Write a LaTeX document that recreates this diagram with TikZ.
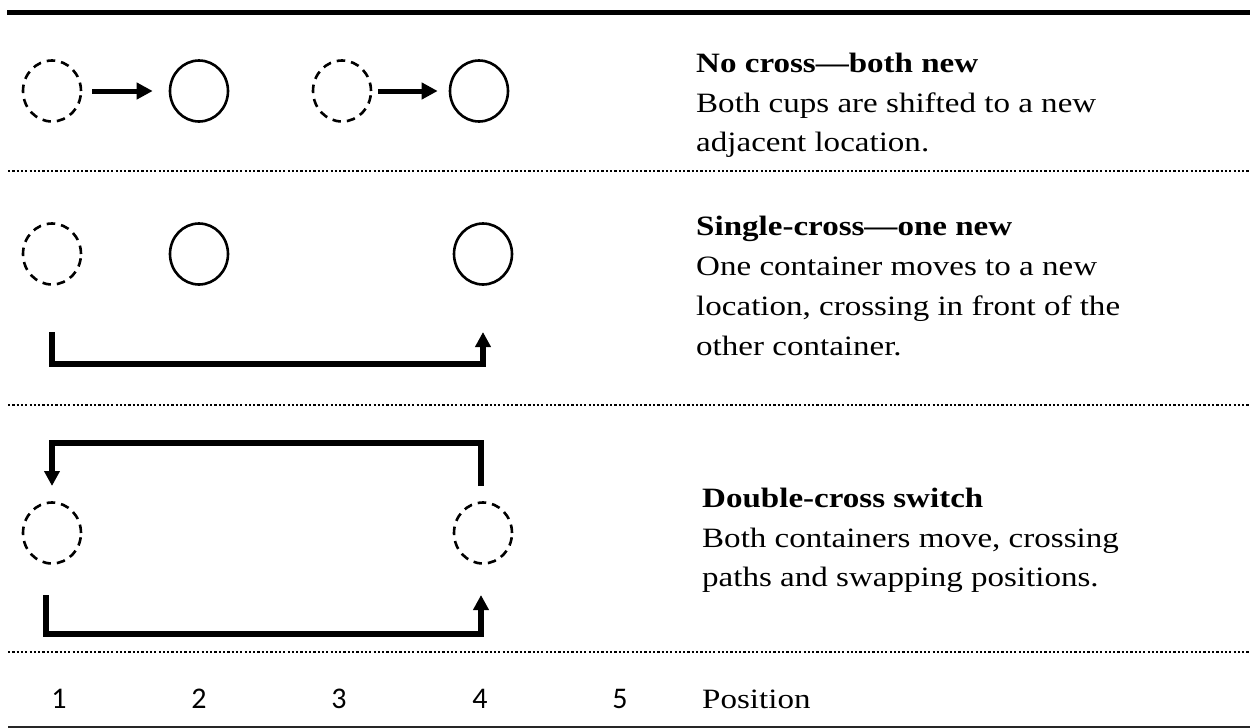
\documentclass[tikz,border=0pt]{standalone}
\usepackage{fontspec}
\setmainfont{Liberation Serif}[FakeStretch=1.18]
\newfontfamily\numfont{Carlito}
\usetikzlibrary{shapes.geometric,arrows.meta}
\begin{document}
\begin{tikzpicture}[x=1pt,y=-1pt,
  cup/.style={ellipse,draw,line width=2.6pt,minimum width=58pt,minimum height=61pt,inner sep=0pt},
  ghost/.style={cup,dash pattern=on 8.5pt off 6pt},
  mv/.style={line width=5pt,-{Triangle[length=16pt,width=16pt]}},
  brk/.style={line width=5.6pt,-{Triangle[length=15pt,width=15pt]}},
  ttl/.style={anchor=base west,inner sep=0pt,font=\fontsize{28}{40}\selectfont\bfseries},
  body/.style={anchor=base west,inner sep=0pt,font=\fontsize{28}{40}\selectfont},
  num/.style={anchor=base,inner sep=0pt,font=\numfont\fontsize{30}{36}\selectfont},
  sep/.style={line width=2pt,dash pattern=on 2.2pt off 2.1pt}
]
\useasboundingbox (0,0) rectangle (1250,728);

% rules
\draw[line width=5pt] (7,12) -- (1250,12);
\draw[sep] (8,171) -- (1250,171);
\draw[sep] (8,405) -- (1250,405);
\draw[sep] (8,652) -- (1250,652);
\draw[line width=2pt,black!85] (8,727) -- (1250,727);

% row 1
\node[ghost] (r1a) at (52,91) {};
\node[cup]   (r1b) at (199,91) {};
\node[ghost] (r1c) at (342,91) {};
\node[cup]   (r1d) at (479,91) {};
\draw[mv,shorten <=10pt,shorten >=16pt] (r1a.east) -- (r1b.west);
\draw[mv,shorten <=6pt,shorten >=11pt] (r1c.east) -- (r1d.west);

% row 2
\node[ghost] (r2a) at (52,254) {};
\node[cup]   (r2b) at (199,254) {};
\node[cup]   (r2c) at (483,254) {};
\coordinate (b2s) at (52,332);
\coordinate (b2e) at (483,332);
\draw[brk] (b2s) -- ++(0,32) -| (b2e);

% row 3
\node[ghost] (r3a) at (52,533) {};
\node[ghost] (r3b) at (483,533) {};
\coordinate (t3s) at (481,486);
\coordinate (t3e) at (52,486);
\draw[brk] (t3s) -- (481,443) -| (t3e);
\coordinate (b3s) at (46,595);
\coordinate (b3e) at (481,595);
\draw[brk] (b3s) -- ++(0,39) -| (b3e);

% texts
\node[ttl]  (h1)  at (696,72) {No cross—both new};
\node[body] (h1a) at (696,112) {Both cups are shifted to a new};
\node[body] (h1b) at (696,151) {adjacent location.};

\node[ttl]  (h2)  at (696,235) {Single-cross—one new};
\node[body] (h2a) at (696,275) {One container moves to a new};
\node[body] (h2b) at (696,315) {location, crossing in front of the};
\node[body] (h2c) at (696,355) {other container.};

\node[ttl]  (h3)  at (702,507) {Double-cross switch};
\node[body] (h3a) at (702,547) {Both containers move, crossing};
\node[body] (h3b) at (702,586) {paths and swapping positions.};

\node[num] (n1) at (59,708) {1};
\node[num] (n2) at (199,708) {2};
\node[num] (n3) at (339,708) {3};
\node[num] (n4) at (480,708) {4};
\node[num] (n5) at (620,708) {5};
\node[body] (pos) at (702,708) {Position};
\end{tikzpicture}
\end{document}
